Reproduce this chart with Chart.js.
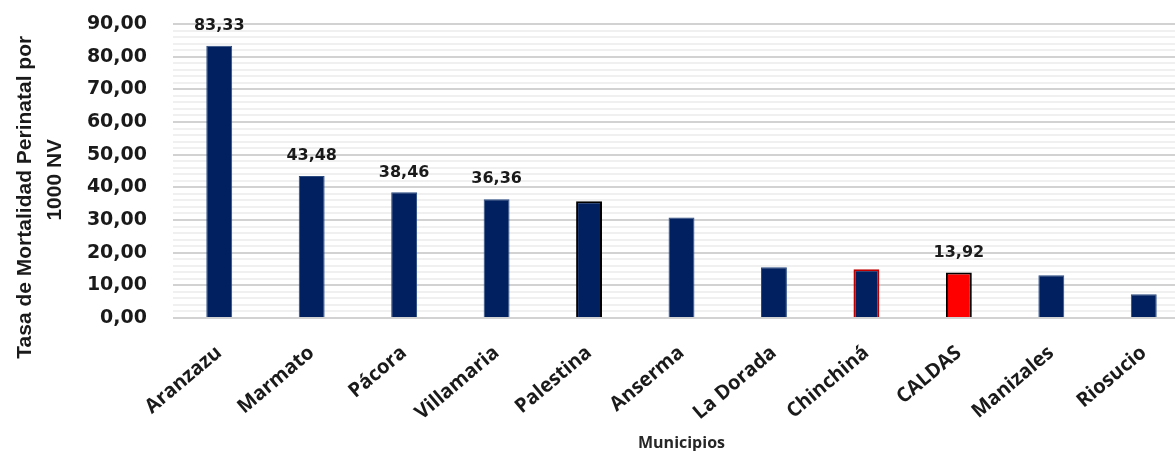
<!DOCTYPE html>
<html>
<head>
<meta charset="utf-8">
<script src="https://cdn.jsdelivr.net/npm/chart.js@4.4.1/dist/chart.umd.min.js"></script>
<style>
  html, body { margin: 0; padding: 0; background: #ffffff; overflow: hidden; }
  #wrap { width: 1200px; height: 451px; position: relative; }
</style>
</head>
<body>
<div id="wrap"><canvas id="c"></canvas></div>
<script>
// ---- data ----
const categories = ['Aranzazu', 'Marmato', 'Pácora', 'Villamaria', 'Palestina', 'Anserma', 'La Dorada', 'Chinchiná', 'CALDAS', 'Manizales', 'Riosucio'];
const rates = [83.33, 43.48, 38.46, 36.36, 35.71, 30.77, 15.50, 14.93, 13.92, 13.07, 7.30];
const labeledBars = ['Aranzazu', 'Marmato', 'Pácora', 'Villamaria', 'CALDAS'];
const yTickValues = [0, 10, 20, 30, 40, 50, 60, 70, 80, 90];
const yAxisTitle = ['Tasa de Mortalidad Perinatal por', '1000 NV'];
const xAxisTitle = 'Municipios';

// ---- styles ----
const NAVY = '#002060';
function fillFor(name) { return name === 'CALDAS' ? '#FF0000' : NAVY; }
function borderFor(name) {
  if (name === 'Palestina') return '#000000';
  if (name === 'Chinchiná') return '#C00000';
  if (name === 'CALDAS') return '#000000';
  return '#2a4a80';
}
function borderWidthFor(name) {
  return (name === 'Palestina' || name === 'Chinchiná' || name === 'CALDAS') ? 2 : 1;
}
const fmt = v => v.toFixed(2).replace('.', ',');
// trailing spaces shift each centred title line towards the bottom, as in the original
const yTitleLines = [yAxisTitle[0] + ' '.repeat(9), yAxisTitle[1] + ' '.repeat(3)];

const valueLabels = {
  id: 'valueLabels',
  afterDatasetsDraw(chart) {
    const ctx = chart.ctx;
    const meta = chart.getDatasetMeta(0);
    ctx.save();
    ctx.font = 'bold 16px "DejaVu Sans"';
    ctx.fillStyle = '#1a1a1a';
    ctx.textAlign = 'center';
    ctx.textBaseline = 'middle';
    meta.data.forEach((bar, i) => {
      if (labeledBars.includes(categories[i])) {
        ctx.fillText(fmt(rates[i]), bar.x, bar.y - 20);
      }
    });
    ctx.restore();
  }
};

new Chart(document.getElementById('c'), {
  type: 'bar',
  data: {
    labels: categories,
    datasets: [{
      data: rates,
      backgroundColor: categories.map(fillFor),
      borderColor: categories.map(borderFor),
      borderWidth: categories.map(borderWidthFor),
      borderSkipped: 'bottom',
      barPercentage: 0.28,
      categoryPercentage: 1.0
    }]
  },
  options: {
    responsive: true,
    maintainAspectRatio: false,
    animation: false,
    devicePixelRatio: 1,
    layout: { padding: { left: 10, right: 10, top: 24, bottom: 0 } },
    plugins: { legend: { display: false }, tooltip: { enabled: false } },
    scales: {
      x: {
        afterFit: s => { s.height = 133; s.paddingLeft = 0; },
        grid: { display: false, drawTicks: false },
        border: { display: false },
        ticks: {
          color: '#1a1a1a',
          font: { family: '"Open Sans"', size: 20, weight: 'bold' },
          minRotation: 40, maxRotation: 40,
          padding: 23,
          autoSkip: false
        },
        title: {
          display: true,
          text: xAxisTitle,
          color: '#262626',
          font: { family: '"Open Sans"', size: 16, weight: 'bold', lineHeight: 1.0 },
          padding: { top: 0, bottom: 0 }
        }
      },
      y: {
        min: 0, max: 90,
        afterFit: s => { s.width = 163; s.paddingTop = 0; s.paddingBottom = 0; },
        grid: {
          drawTicks: false,
          color: ctx => (yTickValues.includes(ctx.tick.value) ? '#d2d2d2' : '#f0f0f0'),
          lineWidth: 2
        },
        border: { display: false },
        ticks: {
          stepSize: 2,
          autoSkip: false,
          padding: 26,
          color: '#1a1a1a',
          font: { family: '"DejaVu Sans"', size: 19, weight: 'bold' },
          callback: v => (yTickValues.includes(v) ? fmt(v) : '')
        },
        title: {
          display: true,
          text: yTitleLines,
          color: '#1a1a1a',
          font: { family: '"Liberation Sans"', size: 21, weight: 'bold', lineHeight: 1.43 },
          padding: { top: 0, bottom: 0 }
        }
      }
    }
  },
  plugins: [valueLabels]
});
</script>
</body>
</html>
